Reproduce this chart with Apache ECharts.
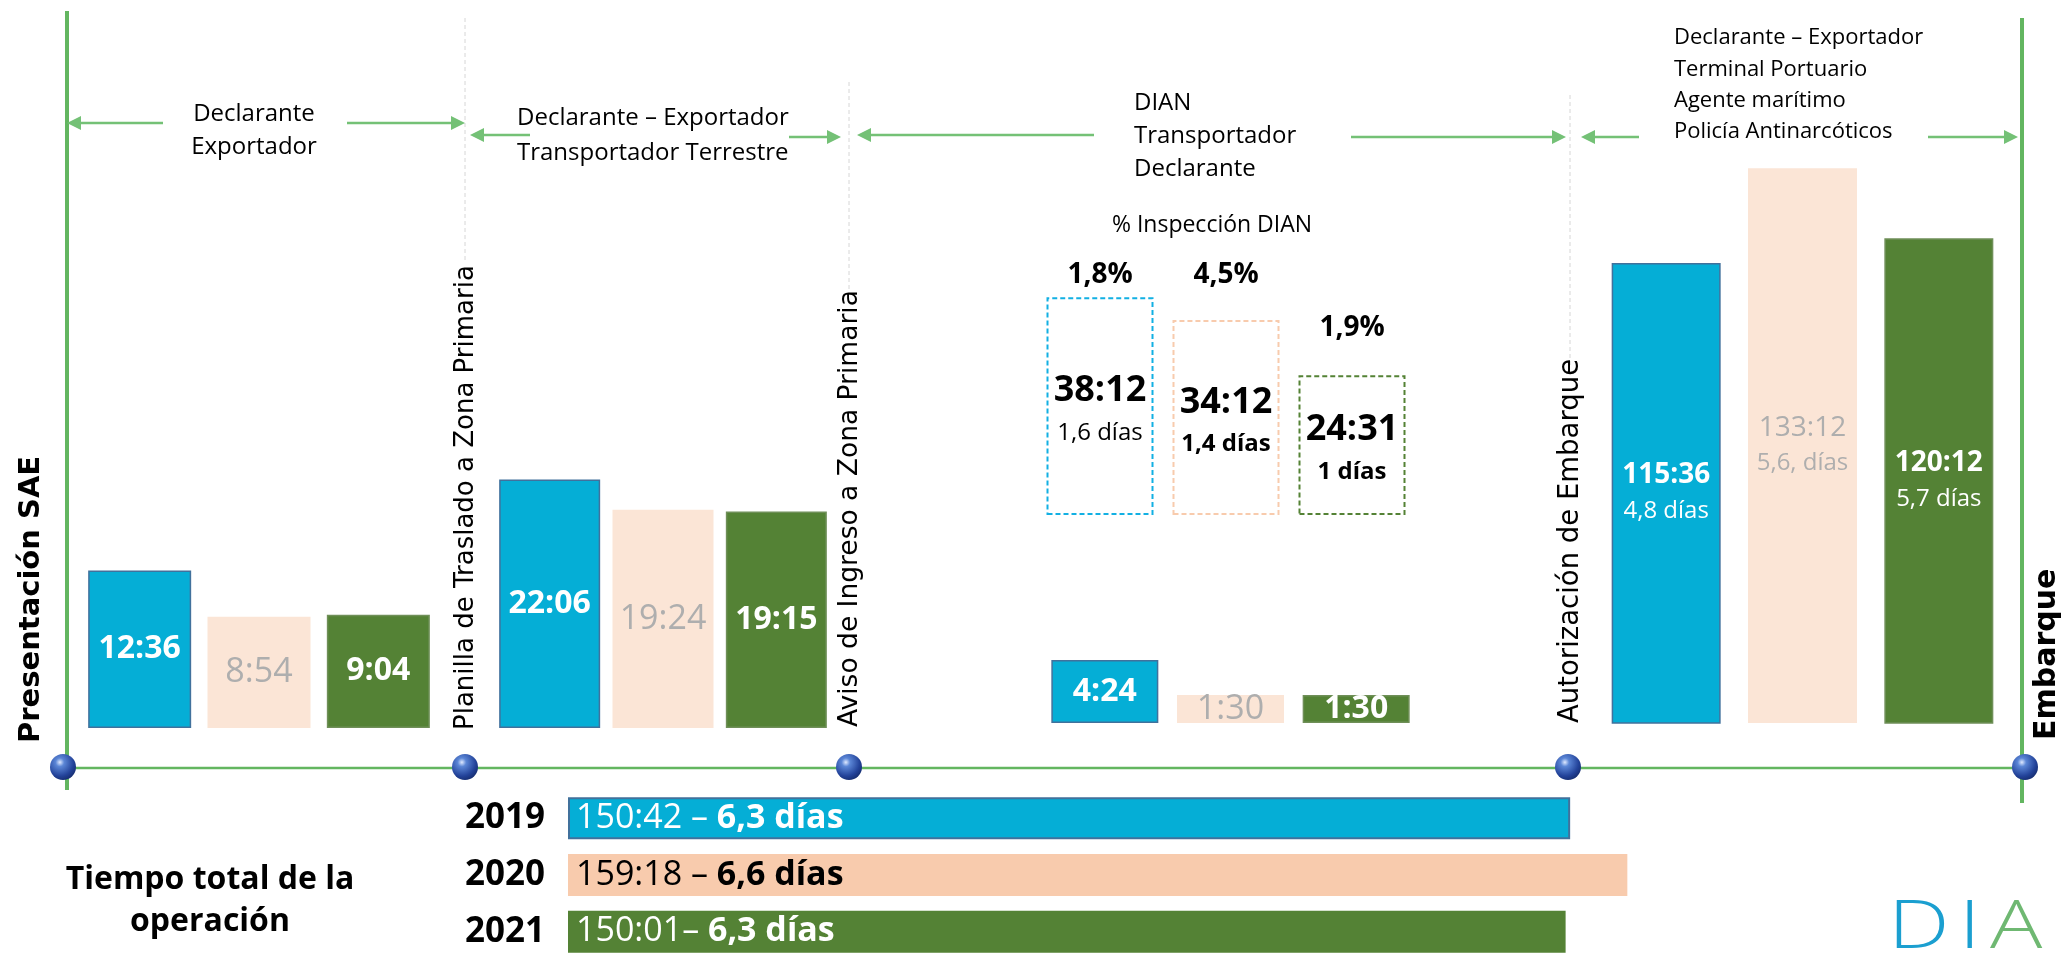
<!DOCTYPE html>
<html>
<head>
<meta charset="utf-8">
<script src="https://cdn.jsdelivr.net/npm/echarts@6/dist/echarts.min.js"></script>
<style>
  html, body { margin: 0; padding: 0; background: #fff; }
  #chart { width: 2069px; height: 953px; }
</style>
</head>
<body>
<div id="chart"></div>
<script>
// tiempos por etapa (hh:mm), un valor por año
const years = ['2019', '2020', '2021'];
const planilla = ['12:36', '8:54', '9:04'];
const aviso = ['22:06', '19:24', '19:15'];
const inspeccion = ['38:12', '34:12', '24:31'];
const inspeccionDias = ['1,6 días', '1,4 días', '1 días'];
const inspeccionPct = ['1,8%', '4,5%', '1,9%'];
const sinInspeccion = ['4:24', '1:30', '1:30'];
const embarque = ['115:36', '133:12', '120:12'];
const embarqueDias = ['4,8 días', '5,6, días', '5,7 días'];
const total = ['150:42', '159:18', '150:01'];
const totalSep = [' – ', ' – ', '– '];
const totalDias = ['6,3 días', '6,6 días', '6,3 días'];

// hh:mm -> horas
const hrs = t => {
	const [h, m] = t.split(':').map(Number);
	return h + m / 60;
};

const FONT = '"Open Sans", sans-serif';
const VFONT = '"DejaVu Sans", sans-serif';
const fill = ['#05aed6', '#fbe5d6', '#548235'];
const edge = ['#41719c', '#fbe5d6', '#6f8f58'];
const ink = ['#ffffff', '#aeaeae', '#ffffff'];
const weight = ['bold', 'normal', 'bold'];
const boxEdge = ['#12b0e3', '#f8cbad', '#548235'];
const totalFill = ['#05aed6', '#f8cbad', '#548235'];
const totalInk = ['#ffffff', '#000000', '#ffffff'];
const lineGreen = '#63b660';
const arrowGreen = '#74c176';

// grids: planilla, aviso, inspeccion (cajas), sin inspeccion, embarque, total
const grids = [
	{ left: 80, width: 358, top: 228, height: 500 },
	{ left: 493, width: 340, top: 278, height: 450 },
	{ left: 1037, width: 378, top: 230, height: 285 },
	{ left: 1042, width: 377, top: 580, height: 143 },
	{ left: 1598, width: 409, top: 78, height: 645 },
	{ left: 568, width: 1330, top: 790, height: 170 },
].map(g => Object.assign({ outerBoundsMode: 'none', containLabel: false }, g));
const yMin = [0, 0, 0, 0, 30];
const yMax = [40, 40, 50, 10, 150];

const xAxes = yMax.map((m, i) => ({ type: 'category', gridIndex: i, data: years, show: false }));
xAxes.push({ type: 'value', gridIndex: 5, min: 0, max: 200, show: false });
const yAxes = yMax.map((m, i) => ({ type: 'value', gridIndex: i, min: yMin[i], max: m, show: false }));
yAxes.push({
	type: 'category', gridIndex: 5, data: years, inverse: true,
	axisLine: { show: false }, axisTick: { show: false }, splitLine: { show: false },
	axisLabel: { margin: 23, color: '#000', fontFamily: FONT, fontWeight: 'bold', fontSize: 35 },
});

// barra simple con etiqueta hh:mm al centro
const simpleBars = (idx, times, width, extra) => ({
	type: 'bar', xAxisIndex: idx, yAxisIndex: idx, barWidth: width,
	data: times.map((t, i) => ({
		value: hrs(t),
		itemStyle: { color: fill[i], borderColor: edge[i], borderWidth: i === 1 ? 0 : 1.5 },
		label: {
			color: ink[i], fontWeight: weight[i], fontSize: i === 1 ? 34 : 32,
		},
	})),
	label: {
		show: true, position: 'inside', fontFamily: FONT,
		formatter: p => times[p.dataIndex],
	},
	...extra,
});

const series = [
	simpleBars(0, planilla, 103),
	simpleBars(1, aviso, 101),
	{
		type: 'bar', xAxisIndex: 2, yAxisIndex: 2, barWidth: 107, barGap: '-100%',
		data: inspeccion.map((t, i) => ({
			value: hrs(t),
			itemStyle: { color: 'rgba(0,0,0,0)', borderColor: boxEdge[i], borderType: [5, 3], borderWidth: 2 },
			label: {
				formatter: `{t|${t}}\n{d|${inspeccionDias[i]}}`,
				rich: {
					t: { fontFamily: FONT, fontSize: 36, fontWeight: 'bold', color: '#000', lineHeight: 42 },
					d: { fontFamily: FONT, fontSize: 24, fontWeight: i === 0 ? 'normal' : 'bold', color: '#000', lineHeight: 42 },
				},
			},
		})),
		label: { show: true, position: 'inside', offset: [0, 6] },
	},
	{
		type: 'bar', xAxisIndex: 2, yAxisIndex: 2, barWidth: 107, barGap: '-100%', silent: true,
		itemStyle: { color: 'rgba(0,0,0,0)' },
		data: inspeccion.map((t, i) => ({
			value: hrs(t),
			label: { distance: [8, 31, 33][i] },
		})),
		label: {
			show: true, position: 'top', fontFamily: FONT, fontSize: 28, fontWeight: 'bold', color: '#000',
			formatter: p => inspeccionPct[p.dataIndex],
		},
	},
	simpleBars(3, sinInspeccion, 107, { barMinHeight: 28 }),
	{
		type: 'bar', xAxisIndex: 4, yAxisIndex: 4, barWidth: 109,
		data: embarque.map((t, i) => ({
			value: hrs(t),
			itemStyle: { color: fill[i], borderColor: edge[i], borderWidth: i === 1 ? 0 : 1.5 },
			label: {
				formatter: `{t|${t}}\n{d|${embarqueDias[i]}}`,
				rich: {
					t: { fontFamily: FONT, fontSize: 28, fontWeight: weight[i], color: ink[i], lineHeight: 36 },
					d: { fontFamily: FONT, fontSize: 24, color: ink[i], lineHeight: 36 },
				},
			},
		})),
		label: { show: true, position: 'inside' },
	},
	{
		type: 'bar', xAxisIndex: 5, yAxisIndex: 5, barWidth: 42,
		data: total.map((t, i) => ({
			value: hrs(t),
			itemStyle: { color: totalFill[i], borderColor: i === 0 ? '#41719c' : totalFill[i], borderWidth: i === 0 ? 2 : 0 },
			label: {
				formatter: `{r|${t}${totalSep[i]}}{b|${totalDias[i]}}`,
				rich: {
					r: { fontFamily: FONT, fontSize: 34, color: totalInk[i] },
					b: { fontFamily: FONT, fontSize: 34, fontWeight: 'bold', color: totalInk[i] },
				},
			},
		})),
		label: { show: true, position: 'insideLeft', offset: [3, 0] },
	},
];

// elementos decorativos: líneas de tiempo, flechas, hitos
const deco = [];
const line = (x1, y1, x2, y2, stroke, lineWidth, lineDash) => deco.push({
	type: 'line', silent: true,
	shape: { x1, y1, x2, y2 },
	style: { stroke, lineWidth, lineDash },
});
const arrow = (xTail, xTip, y) => {
	const dir = xTip > xTail ? 1 : -1;
	line(xTail, y, xTip - dir * 12, y, arrowGreen, 2.5);
	deco.push({
		type: 'polygon', silent: true,
		shape: { points: [[xTip, y], [xTip - dir * 14, y - 7], [xTip - dir * 14, y + 7]] },
		style: { fill: arrowGreen },
	});
};
const text = (x, y, str, style, rotation) => deco.push({
	type: 'text', silent: true, x, y, rotation: rotation || 0,
	style: Object.assign({ text: str, fill: '#000', fontFamily: FONT, fontSize: 24, align: 'center', verticalAlign: 'middle' }, style),
});

// hitos (guía punteada + rótulo vertical)
const hitos = [
	{ x: 465, top: 18, end: 260, bottom: 730, label: 'Planilla de Traslado a Zona Primaria', size: 26 },
	{ x: 849, top: 82, end: 290, bottom: 727, label: 'Aviso de Ingreso a Zona Primaria', size: 26.5 },
	{ x: 1570, top: 95, end: 367, bottom: 723, label: 'Autorización de Embarque', size: 27.5 },
];
hitos.forEach(h => {
	line(h.x, h.top, h.x, h.end, '#d6d6d6', 1, [4, 3]);
	text(h.x + 1, h.bottom, h.label, { fontFamily: VFONT, fontSize: h.size, align: 'left' }, Math.PI / 2);
});

line(67, 11, 67, 790, lineGreen, 4);
line(2022, 18, 2022, 803, lineGreen, 4);
line(67, 768, 2022, 768, lineGreen, 2.5);

arrow(163, 67, 123); arrow(347, 465, 123);
arrow(530, 470, 135); arrow(789, 841, 137);
arrow(1094, 857, 135); arrow(1351, 1566, 137);
arrow(1639, 1581, 137); arrow(1928, 2018, 137);

[63, 465, 849, 1568, 2025].forEach(cx => deco.push({
	type: 'circle', silent: true,
	shape: { cx, cy: 767, r: 13 },
	style: {
		fill: {
			type: 'radial', x: 0.38, y: 0.32, r: 0.75,
			colorStops: [
				{ offset: 0, color: '#dfe9ff' },
				{ offset: 0.22, color: '#5b86d6' },
				{ offset: 0.7, color: '#23439a' },
				{ offset: 1, color: '#142a6a' },
			],
		},
	},
}));

text(31, 743, 'Presentación SAE', { fontFamily: VFONT, fontSize: 29, fontWeight: 'bold', align: 'left' }, Math.PI / 2);
text(2047, 740, 'Embarque', { fontFamily: VFONT, fontSize: 30, fontWeight: 'bold', align: 'left' }, Math.PI / 2);

text(254, 131, 'Declarante\nExportador', { lineHeight: 33 });
text(517, 136, 'Declarante – Exportador\nTransportador Terrestre', { align: 'left', lineHeight: 35 });
text(1134, 136, 'DIAN\nTransportador\nDeclarante', { align: 'left', lineHeight: 33 });
text(1674, 85, 'Declarante – Exportador\nTerminal Portuario\nAgente marítimo\nPolicía Antinarcóticos', { align: 'left', fontSize: 22, lineHeight: 31.3 });
text(1212, 225, '% Inspección DIAN', { fontSize: 23 });
text(210, 901, 'Tiempo total de la\noperación', { fontSize: 32, fontWeight: 'bold', lineHeight: 42 });

// logo
deco.push({
	type: 'text', silent: true, x: 1888, y: 929, scaleX: 1.32,
	style: {
		text: '{d|D}{i|I}{a|A}', align: 'left', verticalAlign: 'middle',
		fontFamily: FONT, fontSize: 66,
		rich: {
			d: { fill: '#1b9fd0', fontFamily: FONT, fontSize: 66, fontWeight: 300, padding: [0, 7, 0, 0] },
			i: { fill: '#1b9fd0', fontFamily: FONT, fontSize: 66, fontWeight: 300, padding: [0, 7, 0, 0] },
			a: { fill: '#6fb872', fontFamily: FONT, fontSize: 66, fontWeight: 300 },
		},
	},
});

const chart = echarts.init(document.getElementById('chart'), null, { renderer: 'canvas' });
chart.setOption({
	animation: false,
	backgroundColor: '#ffffff',
	grid: grids,
	xAxis: xAxes,
	yAxis: yAxes,
	series,
	graphic: { elements: deco },
});
</script>
</body>
</html>
